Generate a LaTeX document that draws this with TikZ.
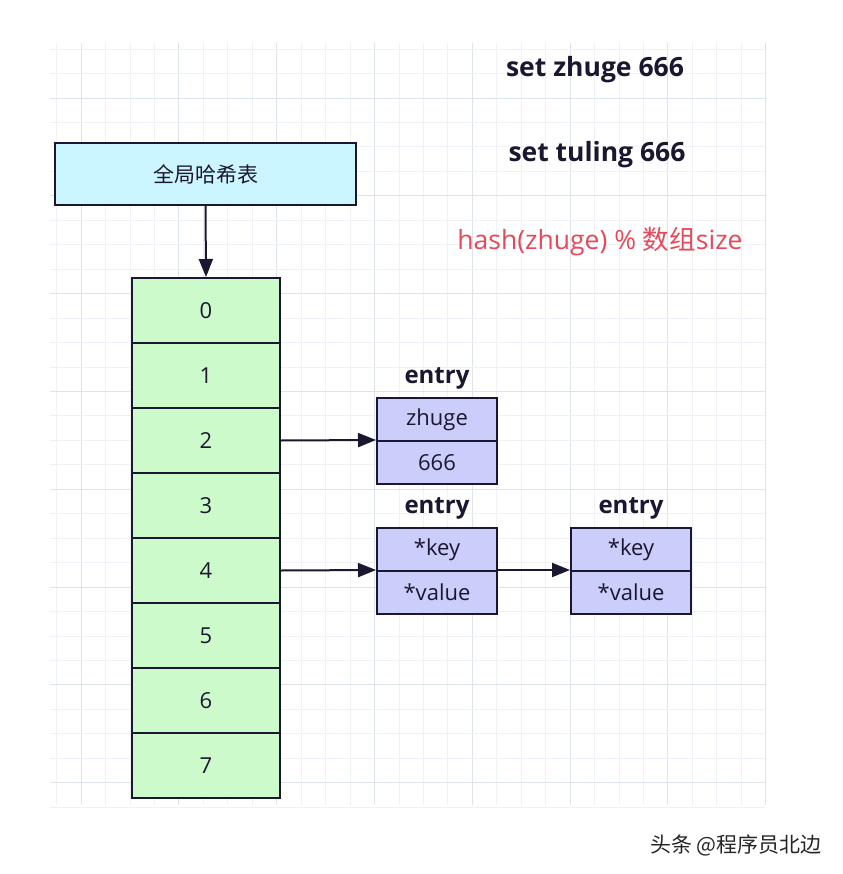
\documentclass[tikz,border=0pt]{standalone}
\usepackage{fontspec}
\setmainfont{Open Sans}
\newfontfamily\cjk{Noto Sans CJK SC}
\usetikzlibrary{arrows.meta,positioning}

\definecolor{gridminor}{HTML}{EEF1F5}
\definecolor{gridmajor}{HTML}{DFE4EA}
\definecolor{inkdark}{HTML}{1B1730}
\definecolor{tablecyan}{HTML}{CCF6FF}
\definecolor{slotgreen}{HTML}{CCFACB}
\definecolor{entryblue}{HTML}{CBCDFA}
\definecolor{hashred}{HTML}{E8495A}

\tikzset{
  tablebox/.style={draw=inkdark,line width=2pt,fill=tablecyan,minimum width=301pt,minimum height=62pt,inner sep=0pt,font=\cjk\fontsize{21}{24}\selectfont,text=inkdark},
  slotbox/.style={draw=inkdark,line width=2pt,fill=slotgreen,minimum width=148pt,minimum height=65pt,inner sep=0pt,font=\fontsize{22}{26}\selectfont,text=inkdark},
  entrybox/.style={draw=inkdark,line width=2pt,fill=entryblue,minimum width=120pt,minimum height=43pt,inner sep=0pt,font=\fontsize{22}{26}\selectfont,text=inkdark},
  entrylabel/.style={font=\bfseries\fontsize{24}{28}\selectfont,text=inkdark,inner sep=0pt},
  cmd/.style={font=\bfseries\fontsize{26.5}{31}\selectfont,text=inkdark,inner sep=0pt},
  ptr/.style={draw=inkdark,line width=2pt,-{Triangle[length=18pt,width=14pt]}}
}

\begin{document}
\begin{tikzpicture}[x=1pt,y=-1pt]

\useasboundingbox[fill=white] (0,0) rectangle (842,874);

% Grid paper
\foreach \k in {0,...,29}{
  \pgfmathtruncatemacro\m{mod(\k,4)}
  \ifnum\m=1 \def\gc{gridmajor}\else\def\gc{gridminor}\fi
  \draw[\gc,line width=0.8pt] ({56.6+24.45*\k},43) -- ({56.6+24.45*\k},805);
}
\foreach \k in {0,...,31}{
  \pgfmathtruncatemacro\m{mod(\k,4)}
  \ifnum\m=2 \def\gc{gridmajor}\else\def\gc{gridminor}\fi
  \draw[\gc,line width=0.8pt] (50,{49.1+24.45*\k}) -- (765,{49.1+24.45*\k});
}

% Global hash table
\node[tablebox] (table) at (205.5,174) {全局哈希表};

% Array slots
\foreach \i in {0,...,7}{
  \node[slotbox] (slot\i) at (206,{310.5+65*\i}) {\i};
}
\draw[ptr] (table.south) -- (slot0.north);

% Entry for slot 2
\node[entrybox] (keyA) at (437,419.5) {zhuge};
\node[entrybox,below=-2pt of keyA] (valA) {666};
\node[entrylabel,above=8pt of keyA] (labA) {entry};

% Entries for slot 4
\node[entrybox] (keyB) at (437,549.5) {*key};
\node[entrybox,below=-2pt of keyB] (valB) {*value};
\node[entrylabel,above=8pt of keyB] (labB) {entry};

\node[entrybox] (keyC) at (631,549.5) {*key};
\node[entrybox,below=-2pt of keyC] (valC) {*value};
\node[entrylabel,above=8pt of keyC] (labC) {entry};

% Pointers
\draw[ptr] (slot2.east) -- (valA.north west);
\draw[ptr] (slot4.east) -- (valB.north west);
\draw[ptr] (valB.north east) -- (valC.north west);

% Commands
\node[cmd] (cmdA) at (595,70) {set zhuge 666};
\node[cmd] (cmdB) at (597,155) {set tuling 666};
\node[font=\fontsize{26.5}{31}\selectfont,text=hashred,inner sep=0pt] (hashfn) at (600,242) {hash(zhuge) \% {\cjk 数组}size};

% Watermark
\node[font=\cjk\fontsize{21}{24}\selectfont,text=black!85,inner sep=0pt] (mark) at (736,845) {头条 @程序员北边};

\end{tikzpicture}
\end{document}
